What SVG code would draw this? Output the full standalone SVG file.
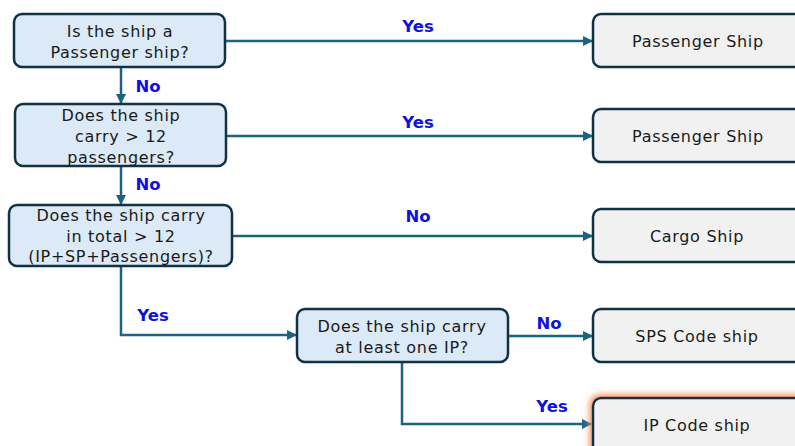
<svg xmlns="http://www.w3.org/2000/svg" width="795" height="446" viewBox="0 0 795 446">
<style>
.q{fill:#dce9f6;stroke:#0f3345;stroke-width:2.5}
.r{fill:#f1f1f1;stroke:#0f3345;stroke-width:2.5}
.t{font-family:"DejaVu Sans","Noto Sans",sans-serif;font-size:16px;letter-spacing:0.7px;fill:#1a1a1a;text-anchor:middle}
.l{font-family:"DejaVu Sans","Noto Sans",sans-serif;font-size:16.5px;font-weight:bold;fill:#1010e0;text-anchor:middle}
.c{fill:none;stroke:#1e6283;stroke-width:2.5}
</style>
<defs>
<marker id="a" markerWidth="10" markerHeight="10" refX="9" refY="5" orient="auto" markerUnits="userSpaceOnUse">
<path d="M0,0 L10,5 L0,10 Z" fill="#1e6283"/>
</marker>
<filter id="glow" x="-20%" y="-30%" width="140%" height="160%">
<feMorphology in="SourceAlpha" operator="dilate" radius="2" result="d"/>
<feGaussianBlur in="d" stdDeviation="3" result="b"/>
<feFlood flood-color="#f28a55"/>
<feComposite operator="in" in2="b"/>
<feMerge><feMergeNode/><feMergeNode in="SourceGraphic"/></feMerge>
</filter>
</defs>
<g id="connectors">
<path class="c" d="M225,41 H592" marker-end="url(#a)"/>
<path class="c" d="M121,67 V103" marker-end="url(#a)"/>
<path class="c" d="M226,136 H592" marker-end="url(#a)"/>
<path class="c" d="M121,166 V204" marker-end="url(#a)"/>
<path class="c" d="M232,236 H592" marker-end="url(#a)"/>
<path class="c" d="M121,266 V335 H296" marker-end="url(#a)"/>
<path class="c" d="M508,336 H592" marker-end="url(#a)"/>
<path class="c" d="M402,362 V424 H591" marker-end="url(#a)"/>
<text class="l" x="418" y="32">Yes</text>
<text class="l" x="148" y="92">No</text>
<text class="l" x="418" y="128">Yes</text>
<text class="l" x="148" y="190">No</text>
<text class="l" x="418" y="222">No</text>
<text class="l" x="153" y="321">Yes</text>
<text class="l" x="549" y="329">No</text>
<text class="l" x="552" y="412">Yes</text>
</g>
<g id="q1"><rect class="q" x="14" y="14" width="211" height="53" rx="8"/>
<text class="t" x="120" y="37">Is the ship a</text><text class="t" x="120" y="58">Passenger ship?</text></g>
<g id="q2"><rect class="q" x="15" y="104" width="211" height="62" rx="8"/>
<text class="t" x="121" y="121">Does the ship</text><text class="t" x="121" y="142">carry &gt; 12</text><text class="t" x="121" y="163">passengers?</text></g>
<g id="q3"><rect class="q" x="9" y="205" width="223" height="61" rx="8"/>
<text class="t" x="121" y="221">Does the ship carry</text><text class="t" x="121" y="242">in total &gt; 12</text><text class="t" x="121" y="262">(IP+SP+Passengers)?</text></g>
<g id="q4"><rect class="q" x="297" y="309" width="211" height="53" rx="8"/>
<text class="t" x="402" y="332">Does the ship carry</text><text class="t" x="402" y="353">at least one IP?</text></g>
<g id="r1"><rect class="r" x="593" y="14" width="220" height="53" rx="8"/><text class="t" x="698" y="47">Passenger Ship</text></g>
<g id="r2"><rect class="r" x="593" y="109" width="220" height="53" rx="8"/><text class="t" x="698" y="142">Passenger Ship</text></g>
<g id="r3"><rect class="r" x="593" y="209" width="220" height="53" rx="8"/><text class="t" x="697" y="242">Cargo Ship</text></g>
<g id="r4"><rect class="r" x="593" y="309" width="220" height="53" rx="8"/><text class="t" x="697" y="342">SPS Code ship</text></g>
<g id="r5"><rect class="r" x="593" y="398" width="220" height="60" rx="8" filter="url(#glow)"/><text class="t" x="697" y="431">IP Code ship</text></g>
</svg>
